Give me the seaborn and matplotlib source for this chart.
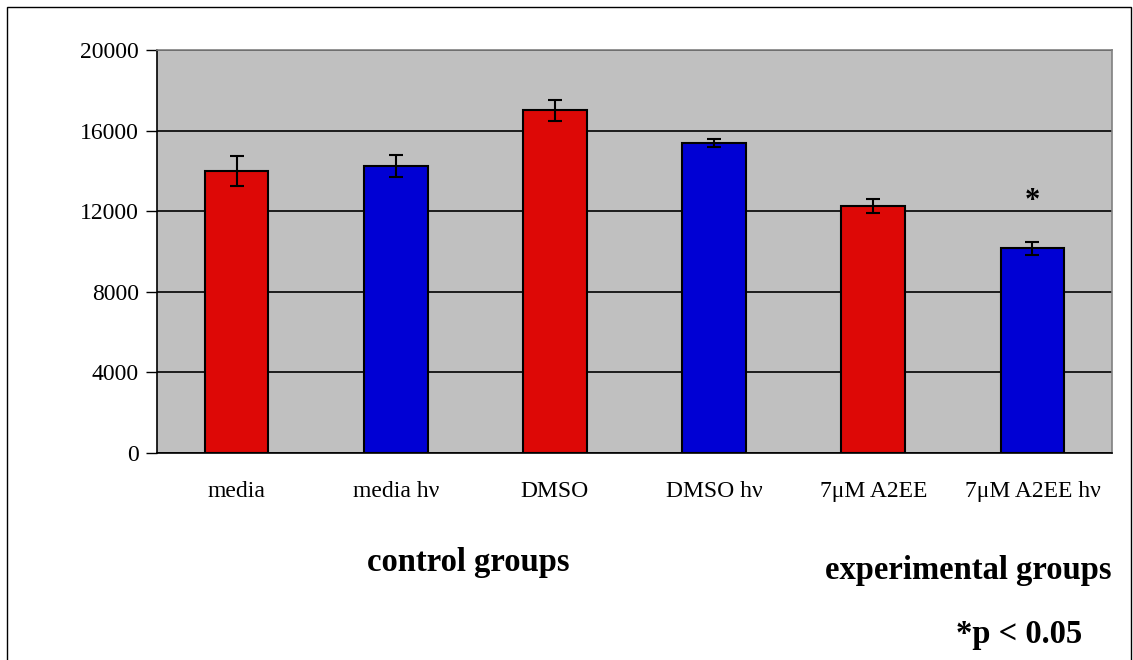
import matplotlib
matplotlib.use("Agg")
import matplotlib.pyplot as plt
import seaborn as sns
import pandas as pd
from matplotlib.patches import Rectangle

groups = ["media", "media hν", "DMSO", "DMSO hν", "7μM A2EE", "7μM A2EE hν"]
means = [14000, 14250, 17000, 15400, 12250, 10150]
errors = [760, 550, 530, 200, 360, 300]
bar_colors = ["#DD0806", "#0000D4", "#DD0806", "#0000D4", "#DD0806", "#0000D4"]
y_ticks = [0, 4000, 8000, 12000, 16000, 20000]

df = pd.DataFrame({"group": groups, "value": means})

sns.set_style("white")
plt.rcParams["font.family"] = ["Liberation Serif", "DejaVu Serif"]
plt.rcParams["text.color"] = "black"
plt.rcParams["xtick.color"] = "black"
plt.rcParams["ytick.color"] = "black"

fig = plt.figure(figsize=(11.33, 6.6), dpi=100)
ax = fig.add_axes([157 / 1133, 1 - 453 / 660, 955 / 1133, 403 / 660])
ax.set_facecolor("#C0C0C0")

sns.barplot(data=df, x="group", y="value", hue="group", palette=bar_colors,
            saturation=1, width=0.4, edgecolor="black", linewidth=1.5,
            legend=False, ax=ax, zorder=3)
ax.errorbar(range(len(groups)), means, yerr=errors, fmt="none", ecolor="black",
            elinewidth=1.5, capsize=5, capthick=1.5, zorder=4)

ax.set_ylim(0, 20000)
ax.set_xlim(-0.5, len(groups) - 0.5)
ax.set_yticks(y_ticks)
ax.set_yticklabels([str(t) for t in y_ticks], fontsize=17)
ax.yaxis.grid(True, color="black", linewidth=1.2, zorder=0)
ax.set_axisbelow(True)

# category labels centered, tick marks between categories
ax.set_xticks(range(len(groups)))
ax.set_xticklabels(groups, fontsize=17)
ax.tick_params(axis="x", which="major", length=0, pad=20)
ax.set_xticks([i - 0.5 for i in range(len(groups) + 1)], minor=True)
ax.tick_params(axis="x", which="minor", length=8, width=1, color="black", direction="out")
ax.tick_params(axis="y", length=8, width=1, color="black", direction="out", left=True, pad=5)
ax.set_xlabel("")
ax.set_ylabel("")

for side in ["top", "right"]:
    ax.spines[side].set_color("#808080")
    ax.spines[side].set_linewidth(1.2)
for side in ["left", "bottom"]:
    ax.spines[side].set_color("black")
    ax.spines[side].set_linewidth(1.2)

# significance marker
ax.text(5, 12500, "*", ha="center", va="center", fontsize=22, fontweight="bold")

fig.text(468 / 1133, 1 - 563 / 660, "control groups", ha="center", va="center",
         fontsize=23.5, fontweight="bold")
fig.text(968 / 1133, 1 - 570 / 660, "experimental groups", ha="center", va="center",
         fontsize=23.5, fontweight="bold")
fig.text(1019 / 1133, 1 - 634 / 660, "*p < 0.05", ha="center", va="center",
         fontsize=23.5, fontweight="bold")

fig.patches.append(Rectangle((7 / 1133, -0.01), 1124 / 1133, 1 - 7 / 660 + 0.01,
                             transform=fig.transFigure, fill=False,
                             edgecolor="black", linewidth=1))

fig.savefig("out.png", dpi=100)
